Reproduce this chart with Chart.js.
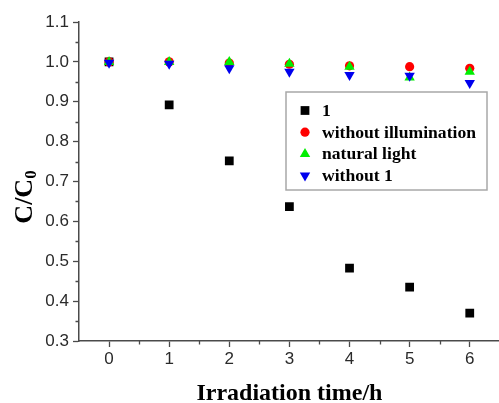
<!DOCTYPE html>
<html>
<head>
<meta charset="utf-8">
<title>C/C0 vs irradiation time</title>
<script src="https://cdn.jsdelivr.net/npm/chart.js@4.4.1/dist/chart.umd.min.js"></script>
<style>
  html, body { margin: 0; padding: 0; background: #fff; overflow: hidden; }
  #wrap { position: relative; width: 506px; height: 403px; }
</style>
</head>
<body>
<div id="wrap"><canvas id="chart"></canvas></div>
<script>
// Irradiation time (h)
const hours = [0, 1, 2, 3, 4, 5, 6];

// C/C0 for each run
const withCatalyst = [1.0, 0.892, 0.752, 0.637, 0.483, 0.435, 0.370];
const withoutIllumination = [1.0, 1.0, 0.997, 0.994, 0.990, 0.988, 0.984];
const naturalLight = [1.0, 1.0, 1.0, 0.995, 0.988, 0.961, 0.975];
const withoutCatalyst = [0.998, 0.995, 0.984, 0.975, 0.967, 0.965, 0.947];

const seriesNames = ['1', 'without illumination', 'natural light', 'without 1'];

// Axis ticks
const xTickValues = [0, 1, 2, 3, 4, 5, 6];
const yTickValues = [0.3, 0.4, 0.5, 0.6, 0.7, 0.8, 0.9, 1.0, 1.1];

const AXIS_COLOR = '#4a4a4a';
const TICK_FONT = { family: '"Liberation Sans", Arial, sans-serif', size: 17 };
const SERIF = '"Liberation Serif", "Times New Roman", serif';

function toPoints(values) {
  return hours.map((h, i) => ({ x: h, y: values[i] }));
}

// Half-step minor ticks on both axes
const minorTicks = {
  id: 'minorTicks',
  afterDraw(chart) {
    const ctx = chart.ctx;
    const xs = chart.scales.x;
    const ys = chart.scales.y;
    ctx.save();
    ctx.strokeStyle = AXIS_COLOR;
    ctx.lineWidth = 1.3;
    ctx.beginPath();
    for (let i = 0; i < xTickValues.length - 1; i++) {
      const px = Math.round(xs.getPixelForValue((xTickValues[i] + xTickValues[i + 1]) / 2)) + 0.5;
      ctx.moveTo(px, ys.bottom);
      ctx.lineTo(px, ys.bottom + 3.5);
    }
    for (let i = 0; i < yTickValues.length - 1; i++) {
      const py = Math.round(ys.getPixelForValue((yTickValues[i] + yTickValues[i + 1]) / 2)) + 0.5;
      ctx.moveTo(xs.left, py);
      ctx.lineTo(xs.left - 3.5, py);
    }
    ctx.stroke();
    ctx.restore();
  }
};

// Vertical axis title with subscript
const yTitle = {
  id: 'yTitle',
  afterDraw(chart) {
    const ctx = chart.ctx;
    ctx.save();
    ctx.translate(32, 197);
    ctx.rotate(-Math.PI / 2);
    ctx.fillStyle = '#000';
    ctx.textBaseline = 'alphabetic';
    ctx.font = 'bold 26px ' + SERIF;
    const main = 'C/C';
    const w1 = ctx.measureText(main).width;
    ctx.font = 'bold 17px ' + SERIF;
    const w2 = ctx.measureText('0').width;
    const start = -(w1 + w2) / 2;
    ctx.font = 'bold 26px ' + SERIF;
    ctx.fillText(main, start, 0);
    ctx.font = 'bold 17px ' + SERIF;
    ctx.fillText('0', start + w1, 4);
    ctx.restore();
  }
};

// Boxed legend inside the plot area
const legendBox = {
  id: 'legendBox',
  afterDraw(chart) {
    const ctx = chart.ctx;
    ctx.save();
    ctx.fillStyle = '#fff';
    ctx.fillRect(286, 92, 201, 98);
    ctx.strokeStyle = '#a8a8a8';
    ctx.lineWidth = 1.5;
    ctx.strokeRect(286, 92, 201, 98);
    ctx.font = 'bold 17.6px ' + SERIF;
    ctx.textBaseline = 'middle';
    chart.data.datasets.forEach((ds, i) => {
      const y = 110.5 + i * 21.7;
      ctx.fillStyle = ds.backgroundColor;
      Chart.helpers.drawPoint(ctx, {
        pointStyle: ds.pointStyle,
        radius: ds.pointRadius,
        rotation: ds.rotation || 0,
        borderWidth: 0
      }, 305, y);
      ctx.fillStyle = '#000';
      ctx.fillText(ds.label, 322, y + 1);
    });
    ctx.restore();
  }
};

const datasets = [
  { label: seriesNames[0], data: toPoints(withCatalyst), pointStyle: 'rect', pointRadius: 6.2, backgroundColor: '#000000', order: 3 },
  { label: seriesNames[1], data: toPoints(withoutIllumination), pointStyle: 'circle', pointRadius: 4.6, backgroundColor: '#ff0000', order: 2 },
  { label: seriesNames[2], data: toPoints(naturalLight), pointStyle: 'triangle', pointRadius: 6, backgroundColor: '#00ee00', order: 1 },
  { label: seriesNames[3], data: toPoints(withoutCatalyst), pointStyle: 'triangle', rotation: 180, pointRadius: 6, backgroundColor: '#0000ee', order: 0 }
].map(ds => Object.assign({
  borderWidth: 0,
  borderColor: ds.backgroundColor,
  pointBorderWidth: 0,
  pointHoverRadius: ds.pointRadius,
  showLine: false
}, ds));

new Chart(document.getElementById('chart'), {
  type: 'scatter',
  data: { datasets },
  options: {
    responsive: true,
    maintainAspectRatio: false,
    animation: false,
    events: [],
    layout: { padding: { top: 22, right: 3, left: 0, bottom: 0 } },
    plugins: {
      legend: { display: false },
      tooltip: { enabled: false }
    },
    scales: {
      x: {
        type: 'linear',
        min: -0.5,
        max: 6.5,
        afterBuildTicks(scale) {
          scale.ticks = xTickValues.map(v => ({ value: v }));
        },
        afterFit(scale) { scale.height = 62; },
        border: { display: true, color: AXIS_COLOR, width: 1.5 },
        grid: { drawOnChartArea: false, drawTicks: true, tickLength: 6, tickColor: AXIS_COLOR, tickWidth: 1.3 },
        ticks: {
          color: '#2a2a2a',
          font: TICK_FONT,
          padding: 2,
          maxRotation: 0,
          callback: v => String(v)
        },
        title: {
          display: true,
          text: 'Irradiation time/h',
          color: '#000',
          font: { family: SERIF, size: 24, weight: 'bold', lineHeight: 0.75 },
          padding: { top: 0, bottom: 0 }
        }
      },
      y: {
        type: 'linear',
        min: 0.3,
        max: 1.1,
        afterBuildTicks(scale) {
          scale.ticks = yTickValues.map(v => ({ value: v }));
        },
        afterFit(scale) { scale.width = 79; },
        border: { display: true, color: AXIS_COLOR, width: 1.5 },
        grid: { drawOnChartArea: false, drawTicks: true, tickLength: 6, tickColor: AXIS_COLOR, tickWidth: 1.3 },
        ticks: {
          color: '#2a2a2a',
          font: TICK_FONT,
          padding: 4,
          callback: v => v.toFixed(1)
        }
      }
    }
  },
  plugins: [minorTicks, yTitle, legendBox]
});
</script>
</body>
</html>
